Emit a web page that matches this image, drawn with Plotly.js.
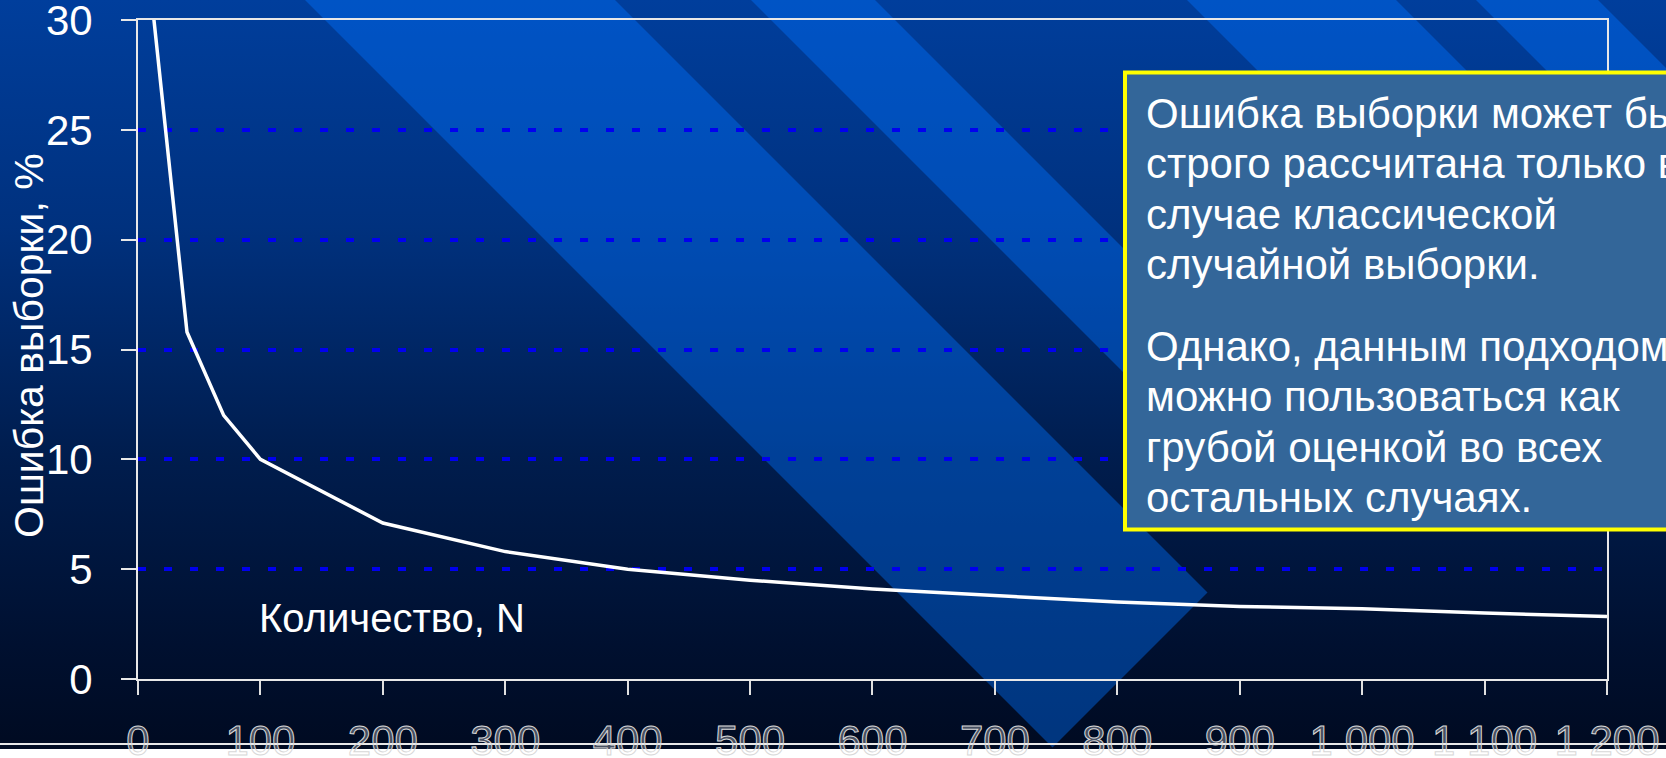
<!DOCTYPE html>
<html><head><meta charset="utf-8">
<script src="https://cdn.plot.ly/plotly-3.0.1.min.js"></script>
<style>
html,body{margin:0;padding:0;background:#000a20;overflow:hidden}
#chart{width:1666px;height:758px}
.x2tick text{stroke:#d8d8d8;stroke-width:1px;}
</style></head><body><div id="chart"></div>
<script>
// ---- data ----
const sampleSize    = [10, 40, 70, 100, 200, 300, 400, 500, 600, 700, 800, 900, 1000, 1100, 1200];
const samplingError = [31.6, 15.8, 12.0, 10.0, 7.1, 5.8, 5.0, 4.5, 4.1, 3.8, 3.5, 3.3, 3.2, 3.0, 2.85];
const xTickVals = [0, 100, 200, 300, 400, 500, 600, 700, 800, 900, 1000, 1100, 1200];
const xTickText = ['0', '100', '200', '300', '400', '500', '600', '700', '800', '900', '1 000', '1 100', '1 200'];
const yTickVals = [0, 5, 10, 15, 20, 25, 30];
const yTitle = 'Ошибка выборки, %';
const xTitle = 'Количество, N';
const noteLines = [
  'Ошибка выборки может быть',
  'строго рассчитана только в',
  'случае классической',
  'случайной выборки.',
  'Однако, данным подходом',
  'можно пользоваться как',
  'грубой оценкой во всех',
  'остальных случаях.'
];

// ---- slide decoration (pixel geometry) ----
const W = 1666, H = 758;
const FONT = 'Liberation Sans, Arial, sans-serif';
const px = x => x / W;
const py = y => 1 - y / H;
// diagonal bands: x - y between a and b, ending at x + y = c
const bands = [[305, 615, 1800], [751, 875, 1700], [1187, 1396, 2400], [1476, 1598, 2600]];

const traces = [];
traces.push({
  type: 'scatter', mode: 'lines', xaxis: 'x', yaxis: 'y', hoverinfo: 'skip', showlegend: false,
  x: [0, W, W, 0, 0], y: [0, 0, H, H, 0], line: {width: 0}, fill: 'toself', fillcolor: '#00225f',
  fillgradient: {type: 'vertical', start: 0, stop: H,
    colorscale: [[0, '#003e9c'], [0.3, '#00317e'], [0.6, '#001d4e'], [0.85, '#001030'], [1, '#000a20']]}
});
bands.forEach(([a, b, c]) => {
  traces.push({
    type: 'scatter', mode: 'lines', xaxis: 'x', yaxis: 'y', hoverinfo: 'skip', showlegend: false,
    x: [a - 10, b - 10, (b + c) / 2, (a + c) / 2, a - 10],
    y: [-10, -10, (c - b) / 2, (c - a) / 2, -10],
    line: {width: 0}, fill: 'toself', fillcolor: 'rgba(0,115,255,0.42)'
  });
});
traces.push({
  type: 'scatter', mode: 'lines', xaxis: 'x', yaxis: 'y', hoverinfo: 'skip', showlegend: false,
  x: [0, W], y: [744, 744], line: {color: '#e8e8e8', width: 2}
});
traces.push({
  type: 'scatter', mode: 'lines', xaxis: 'x', yaxis: 'y', hoverinfo: 'skip', showlegend: false,
  x: [0, W, W, 0, 0], y: [749, 749, 762, 762, 749], line: {width: 0}, fill: 'toself', fillcolor: '#ffffff'
});

// data line
traces.push({
  type: 'scatter', mode: 'lines', xaxis: 'x2', yaxis: 'y2', showlegend: false,
  x: sampleSize, y: samplingError, line: {color: '#ffffff', width: 3.5}
});

const annotations = [];
annotations.push({xref: 'paper', yref: 'paper', x: px(29), y: py(346), xanchor: 'center', yanchor: 'middle',
  text: yTitle, textangle: -90, showarrow: false, borderpad: 0, font: {family: FONT, size: 41, color: '#ffffff'}});
annotations.push({xref: 'paper', yref: 'paper', x: px(258), y: py(618), xanchor: 'left', yanchor: 'middle',
  text: xTitle, showarrow: false, borderpad: 0, font: {family: FONT, size: 40, color: '#ffffff'}});
const baselines = [128, 178.5, 229, 279.5, 361, 411.5, 462, 512.5];
noteLines.forEach((t, i) => {
  annotations.push({xref: 'paper', yref: 'paper', x: px(1145), y: py(baselines[i] - 14.6), xanchor: 'left', yanchor: 'middle',
    text: t, showarrow: false, borderpad: 0, font: {family: FONT, size: 42, color: '#ffffff'}});
});

const layout = {
  width: W, height: H, margin: {l: 0, r: 0, t: 0, b: 0, pad: 0},
  paper_bgcolor: '#000a20', plot_bgcolor: 'rgba(0,0,0,0)', showlegend: false,
  xaxis: {domain: [0, 1], range: [0, W], visible: false, fixedrange: true},
  yaxis: {domain: [0, 1], range: [H, 0], visible: false, fixedrange: true},
  xaxis2: {anchor: 'y2', domain: [px(138), px(1607)], range: [0, 1200.01],
    tickmode: 'array', tickvals: xTickVals, ticktext: xTickText,
    ticks: 'outside', ticklen: 14, tickwidth: 2, tickcolor: '#e0e0e0',
    showline: true, linecolor: '#e8e8e8', linewidth: 2, mirror: true,
    showgrid: false, zeroline: false, ticklabelstandoff: 10, ticklabeloverflow: 'allow',
    tickfont: {family: FONT, size: 42, color: 'rgba(255,255,255,0.3)'}},
  yaxis2: {anchor: 'x2', domain: [py(679), py(20)], range: [0, 30.001],
    tickmode: 'array', tickvals: yTickVals,
    ticks: 'outside', ticklen: 15, tickwidth: 2, tickcolor: '#e8e8e8',
    showline: true, linecolor: '#e8e8e8', linewidth: 2, mirror: true,
    showgrid: true, gridcolor: '#0000ee', gridwidth: 4, griddash: '8px,18px',
    zeroline: false, ticklabelstandoff: 20, ticklabeloverflow: 'allow',
    tickfont: {family: FONT, size: 42, color: '#ffffff'}},
  shapes: [
    {type: 'line', xref: 'paper', yref: 'y2', x0: px(123), x1: px(138), y0: 30, y1: 30,
      line: {color: '#e8e8e8', width: 2}, layer: 'above'},
    {type: 'rect', xref: 'paper', yref: 'paper', layer: 'above',
      x0: px(1125), x1: 1.2, y0: py(529.5), y1: py(72.5),
      line: {color: '#ffff00', width: 4}, fillcolor: '#336699'}],
  annotations: annotations
};

Plotly.newPlot('chart', traces, layout, {staticPlot: true, displayModeBar: false});
</script></body></html>
